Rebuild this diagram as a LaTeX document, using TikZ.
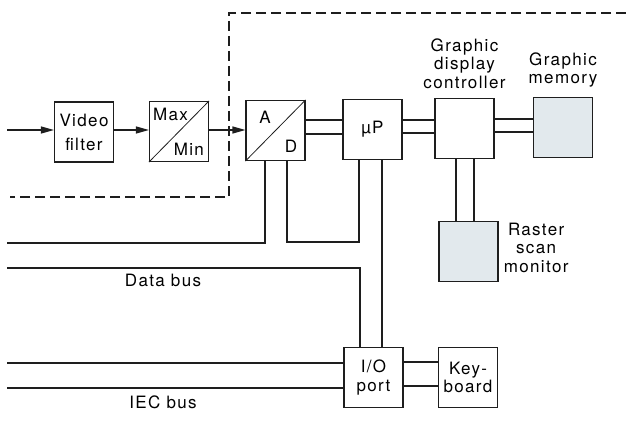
\documentclass[tikz,border=0pt]{standalone}
\usepackage{fontspec}
\setmainfont{TeX Gyre Heros}[LetterSpace=8]
\usetikzlibrary{arrows.meta, positioning, calc}
\definecolor{ScreenFill}{RGB}{226,233,237}
\definecolor{InkGrey}{RGB}{30,30,30}

\tikzset{
  blk/.style={draw=InkGrey, line width=1.2pt, minimum width=59pt, minimum height=60pt, inner sep=0pt, align=center},
  screen/.style={blk, fill=ScreenFill},
  wire/.style={InkGrey, line width=1.2pt},
  sig/.style={wire, -{Triangle[length=13pt,width=7pt]}},
  frame/.style={InkGrey, line width=1.3pt, dash pattern=on 10pt off 5pt},
  lbl/.style={align=center, inner sep=0pt}
}

\begin{document}
\begin{tikzpicture}[
    x=1pt,
    y=-1pt,
    font=\fontsize{17}{18.5}\selectfont
]
\useasboundingbox (0,0) rectangle (626,433);

% dashed enclosure
\draw[frame] (626,13) -- (229,13) -- (229,197) -- (10,197);

% top row
\node[blk, font=\fontsize{17}{24}\selectfont] (filt) at (84,132) {Video\\filter};
\node[blk] (maxmin) at (179,131.5) {};
\node[blk] (ad) at (275.5,130.5) {};
\node[blk] (up) at (372.5,129.5) {µP};
\node[blk] (gdc) at (464.5,128.5) {};
\node[screen] (gmem) at (563,127.5) {};

% lower boxes
\node[screen] (rsm) at (468.5,251.5) {};
\node[blk] (io) at (373.5,377.5) {I/O\\port};
\node[blk] (kbd) at (468,377.5) {Key-\\board};

% split boxes
\draw[wire, line width=0.8pt] (maxmin.south west) -- (maxmin.north east);
\node[lbl, anchor=north west] (maxlbl) at ([shift={(4pt,-7pt)}]maxmin.north west) {Max};
\node[lbl, anchor=base east] (minlbl) at ([shift={(-5pt,7pt)}]maxmin.south east) {Min};
\draw[wire, line width=0.8pt] (ad.south west) -- (ad.north east);
\node[lbl] (alb) at (265,117) {A};
\node[lbl] (dlb) at (291,146) {D};

% captions
\node[lbl, above=9pt of gdc] (gdclbl) {Graphic\\display\\controller};
\node[lbl, above=9pt of gmem] (gmemlbl) {Graphic\\memory};
\node[lbl, right=5pt of rsm, yshift=4pt] (rsmlbl) {Raster\\scan\\monitor};
\node[lbl] (dbus) at (163,280) {Data bus};
\node[lbl] (iec) at (163,402) {IEC bus};

% free ends on the left
\coordinate (vin) at (7,130);
\coordinate (adout) at (7,243);
\coordinate (dbin) at (7,268);
\coordinate (iecA) at (7,363);
\coordinate (iecB) at (7,388);

% signal path
\draw[sig] (vin) -- (filt.west |- vin);
\draw[sig] (filt.east |- vin) -- (maxmin.west |- vin);
\draw[sig] (maxmin.east |- vin) -- (ad.west |- vin);

% double links along the top
\foreach \y in {120,134}{
  \draw[wire] (ad.east |- 0,\y) -- (up.west |- 0,\y);
}
\foreach \y in {120,133}{
  \draw[wire] (up.east |- 0,\y) -- (gdc.west |- 0,\y);
}
\foreach \y in {119,132}{
  \draw[wire] (gdc.east |- 0,\y) -- (gmem.west |- 0,\y);
}

% controller to monitor
\foreach \x in {456,474}{
  \draw[wire] (gdc.south -| \x,0) -- (rsm.north -| \x,0);
}

% A/D and uP down to the buses
\draw[wire] (ad.south -| 265,0) |- (adout);
\draw[wire] (ad.south -| 287,0) -- (287,242) -| (up.south -| 359,0);
\draw[wire] (up.south -| 382,0) -- (io.north -| 382,0);
\draw[wire] (dbin) -| (io.north -| 360,0);

% IEC bus and keyboard
\draw[wire] (iecA) -- (io.west |- iecA);
\draw[wire] (iecB) -- (io.west |- iecB);
\foreach \y in {362,386}{
  \draw[wire] (io.east |- 0,\y) -- (kbd.west |- 0,\y);
}

\end{tikzpicture}
\end{document}
